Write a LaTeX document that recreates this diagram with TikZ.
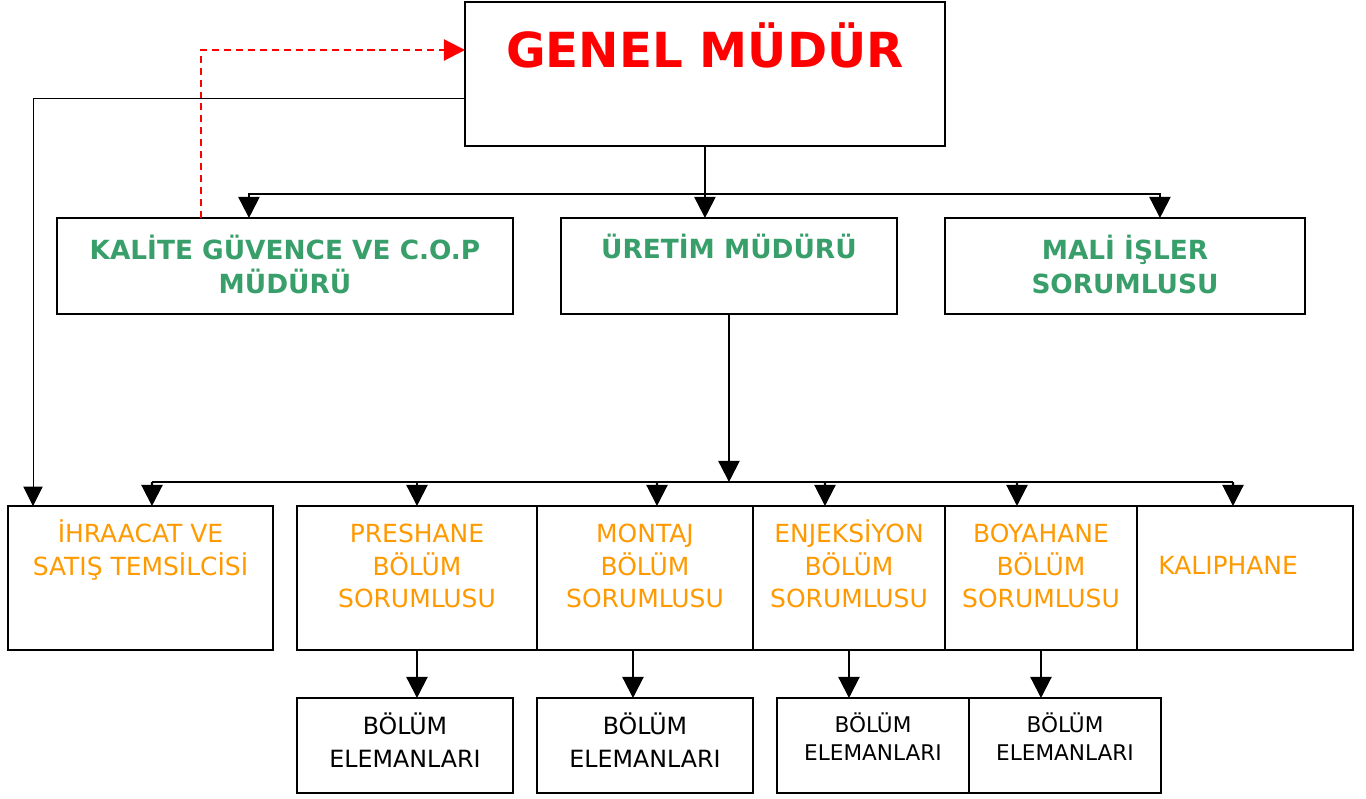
\documentclass[tikz,border=0pt]{standalone}
\usepackage{fontspec}
\setmainfont{DejaVu Sans}
\usetikzlibrary{arrows.meta}
\definecolor{gmred}{RGB}{255,0,0}
\definecolor{mgreen}{RGB}{56,158,106}
\definecolor{borange}{RGB}{255,153,0}
\tikzset{
  box/.style={draw,line width=1.3pt,inner sep=0pt,outer sep=0pt,anchor=north west},
  arr/.style={line width=1.2pt,-{Triangle[length=12pt,width=12pt]}},
  gtxt/.style={anchor=base,align=center,inner sep=0pt,text=mgreen,font=\bfseries\fontsize{15}{19.9}\selectfont},
  otxt/.style={anchor=base,align=center,inner sep=0pt,text=borange,font=\fontsize{14.2}{18.5}\selectfont},
  etxt/.style={anchor=base,align=center,inner sep=0pt,font=\fontsize{13.5}{18.8}\selectfont},
  esmall/.style={anchor=base,align=center,inner sep=0pt,font=\fontsize{12.3}{16.5}\selectfont}
}
\begin{document}
\begin{tikzpicture}[x=0.02cm,y=-0.02cm]
\useasboundingbox (0,0) rectangle (1366,798);
%boxes
\node[box,minimum width=9.6cm,minimum height=2.88cm] (gm) at (465,2) {};
\node[box,minimum width=9.12cm,minimum height=1.92cm] (kal) at (57,218) {};
\node[box,minimum width=6.72cm,minimum height=1.92cm] (ur) at (561,218) {};
\node[box,minimum width=7.2cm,minimum height=1.92cm] (mali) at (945,218) {};
\node[box,minimum width=5.3cm,minimum height=2.88cm] (ihr) at (8,506) {};
\node[box,minimum width=4.8cm,minimum height=2.88cm] (pres) at (297,506) {};
\node[box,minimum width=4.32cm,minimum height=2.88cm] (mon) at (537,506) {};
\node[box,minimum width=3.84cm,minimum height=2.88cm] (enj) at (753,506) {};
\node[box,minimum width=3.84cm,minimum height=2.88cm] (boy) at (945,506) {};
\node[box,minimum width=4.32cm,minimum height=2.88cm] (kalip) at (1137,506) {};
\node[box,minimum width=4.32cm,minimum height=1.9cm] (el1) at (297,698) {};
\node[box,minimum width=4.32cm,minimum height=1.9cm] (el2) at (537,698) {};
\node[box,minimum width=3.84cm,minimum height=1.9cm] (el3) at (777,698) {};
\node[box,minimum width=3.84cm,minimum height=1.9cm] (el4) at (969,698) {};
%texts (base = last line)
\node[anchor=base,inner sep=0pt,text=gmred,font=\bfseries\fontsize{27.5}{33}\selectfont] (gm-t) at ([yshift=-1.32cm]gm.north) {GENEL MÜDÜR};
\node[gtxt] (kal-t) at ([yshift=-1.52cm]kal.north) {KALİTE GÜVENCE VE C.O.P\\MÜDÜRÜ};
\node[gtxt] (ur-t) at ([yshift=-0.82cm]ur.north) {ÜRETİM MÜDÜRÜ};
\node[gtxt] (mali-t) at ([yshift=-1.52cm]mali.north) {MALİ İŞLER\\SORUMLUSU};
\node[otxt] (ihr-t) at ([yshift=-1.39cm]ihr.north) {İHRAACAT VE\\SATIŞ TEMSİLCİSİ};
\node[otxt] (pres-t) at ([yshift=-2.04cm]pres.north) {PRESHANE\\BÖLÜM\\SORUMLUSU};
\node[otxt] (mon-t) at ([yshift=-2.04cm]mon.north) {MONTAJ\\BÖLÜM\\SORUMLUSU};
\node[otxt] (enj-t) at ([yshift=-2.04cm]enj.north) {ENJEKSİYON\\BÖLÜM\\SORUMLUSU};
\node[otxt] (boy-t) at ([yshift=-2.04cm]boy.north) {BOYAHANE\\BÖLÜM\\SORUMLUSU};
\node[otxt,anchor=base west] (kalip-t) at ([xshift=0.42cm,yshift=-1.38cm]kalip.north west) {KALIPHANE};
\node[etxt] (el1-t) at ([yshift=-1.4cm]el1.north) {BÖLÜM\\ELEMANLARI};
\node[etxt] (el2-t) at ([yshift=-1.4cm]el2.north) {BÖLÜM\\ELEMANLARI};
\node[esmall] (el3-t) at ([yshift=-1.26cm]el3.north) {BÖLÜM\\ELEMANLARI};
\node[esmall] (el4-t) at ([yshift=-1.26cm]el4.north) {BÖLÜM\\ELEMANLARI};
%genel mudur to managers
\coordinate (bus1) at (705,194);
\draw[arr] (gm.south) -- (gm.south |- ur.north);
\draw[arr] (bus1) -| ([xshift=-0.72cm]kal.north);
\draw[arr] (bus1) -| ([xshift=0.7cm]mali.north);
\draw[arr,gmred,dash pattern=on 4pt off 2.8pt] ([xshift=-1.68cm]kal.north) |- ([yshift=0.48cm]gm.west);
\draw[arr,line width=0.5pt,-{Triangle[length=11pt,width=11pt]}] ([yshift=-0.48cm]gm.west) -| ([xshift=-2.15cm]ihr.north);
%uretim to sections
\coordinate (bus2) at (729,482);
\draw[arr] (ur.south) -- (ur.south |- bus2);
\draw[line width=1.2pt] (152,482) -- (1233,482);
\draw[arr] (bus2 -| 152,0) -- ([xshift=0.23cm]ihr.north);
\draw[arr] (bus2 -| pres.north) -- (pres.north);
\draw[arr] (bus2 -| 657,0) -- ([xshift=0.24cm]mon.north);
\draw[arr] (bus2 -| 825,0) -- ([xshift=-0.48cm]enj.north);
\draw[arr] (bus2 -| 1017,0) -- ([xshift=-0.48cm]boy.north);
\draw[arr] (bus2 -| 1233,0) -- ([xshift=-0.24cm]kalip.north);
%sections to staff
\draw[arr] (pres.south) -- (pres.south |- el1.north);
\draw[arr] ([xshift=-0.24cm]mon.south) -- ([xshift=-0.24cm]mon.south |- el2.north);
\draw[arr] (enj.south) -- (enj.south |- el3.north);
\draw[arr] (boy.south) -- (boy.south |- el4.north);
\end{tikzpicture}
\end{document}
